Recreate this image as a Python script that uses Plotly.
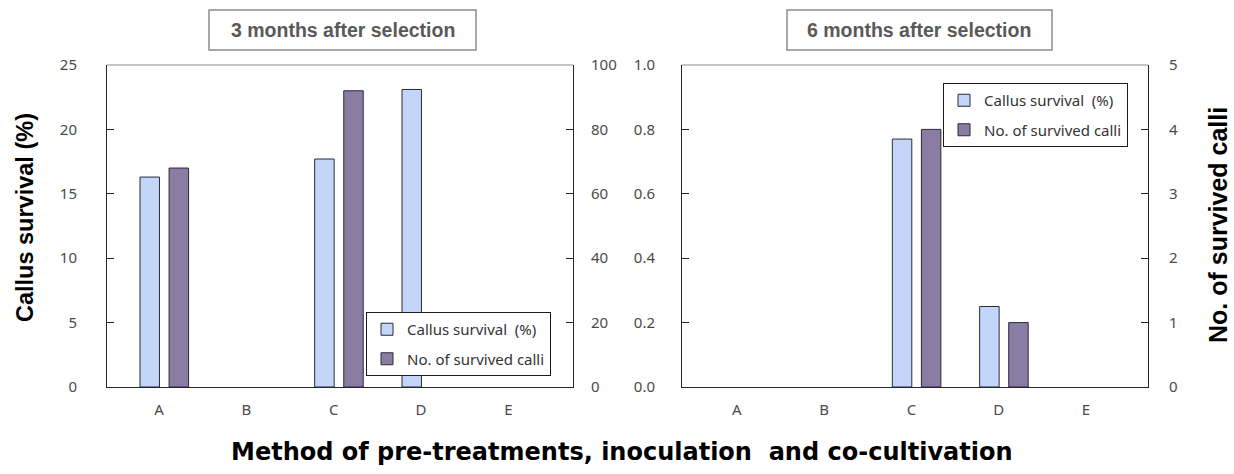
import plotly.graph_objects as go

# ---------------- data ----------------
categories = ["A", "B", "C", "D", "E"]
survival_3m = [16.3, None, 17.7, 23.1, None]      # Callus survival (%), 3 months
calli_3m = [68, None, 92, None, None]             # No. of survived calli, 3 months
survival_6m = [None, None, 0.77, 0.25, None]      # Callus survival (%), 6 months
calli_6m = [None, None, 4, 1, None]               # No. of survived calli, 6 months

left_ticks = [0, 5, 10, 15, 20, 25]
left2_ticks = [0, 20, 40, 60, 80, 100]
right_ticks = [0.0, 0.2, 0.4, 0.6, 0.8, 1.0]
right2_ticks = [0, 1, 2, 3, 4, 5]

W, H = 1234, 474


def px_x(p):
    return p / W


def px_y(p):
    return 1 - p / H


CALLUS_FILL = "#c3d6f9"
CALLI_FILL = "#8b7ca3"
BAR_LINE = "#2a2a3a"
TICK_COLOR = "#4a4a4a"
TICK_FONT = dict(family="Noto Sans", size=15, color=TICK_COLOR)

fig = go.Figure()

bar_w = 0.223
off_callus = -0.218
off_calli = 0.115

fig.add_trace(go.Bar(x=categories, y=survival_3m, name="Callus survival  (%)",
                     xaxis="x", yaxis="y", width=bar_w, offset=off_callus,
                     marker=dict(color=CALLUS_FILL, line=dict(color=BAR_LINE, width=1)),
                     legend="legend", legendgroup="a"))
fig.add_trace(go.Bar(x=categories, y=calli_3m, name="No. of survived calli",
                     xaxis="x", yaxis="y2", width=bar_w, offset=off_calli,
                     marker=dict(color=CALLI_FILL, line=dict(color=BAR_LINE, width=1)),
                     legend="legend", legendgroup="b"))
fig.add_trace(go.Bar(x=categories, y=survival_6m, name="Callus survival  (%)",
                     xaxis="x2", yaxis="y3", width=bar_w, offset=off_callus,
                     marker=dict(color=CALLUS_FILL, line=dict(color=BAR_LINE, width=1)),
                     legend="legend2", legendgroup="c"))
fig.add_trace(go.Bar(x=categories, y=calli_6m, name="No. of survived calli",
                     xaxis="x2", yaxis="y4", width=bar_w, offset=off_calli,
                     marker=dict(color=CALLI_FILL, line=dict(color=BAR_LINE, width=1)),
                     legend="legend2", legendgroup="d"))

ydom = [px_y(387), px_y(65)]
AXLINE = dict(showline=True, linecolor="#262626", linewidth=1, showgrid=False,
              zeroline=False)

xcommon = dict(type="category", showticklabels=True, ticks="",
               tickfont=TICK_FONT, ticklabelstandoff=9, **AXLINE)
ycommon = dict(ticks="inside", ticklen=7, tickcolor="#262626", tickfont=TICK_FONT,
               automargin=False, **AXLINE)

LEG_FONT = dict(family="Noto Sans", size=15, color="#333333")

fig.update_layout(
    width=W, height=H,
    margin=dict(l=0, r=0, t=0, b=0),
    paper_bgcolor="white", plot_bgcolor="white",
    barmode="overlay",
    showlegend=True,
    xaxis=dict(domain=[px_x(107), px_x(573)], anchor="y", range=[-0.596, 4.74], **xcommon),
    yaxis=dict(domain=ydom, anchor="x", range=[0, 25], tickvals=left_ticks,
               side="left", ticklabelstandoff=26, **ycommon),
    yaxis2=dict(domain=ydom, anchor="x", overlaying="y", side="right", range=[0, 100],
                tickvals=left2_ticks, ticklabelstandoff=14, **ycommon),
    xaxis2=dict(domain=[px_x(682), px_x(1148)], anchor="y3", range=[-0.627, 4.71], **xcommon),
    yaxis3=dict(domain=ydom, anchor="x2", range=[0, 1], tickvals=right_ticks,
                tickformat=".1f", side="left", ticklabelstandoff=23, **ycommon),
    yaxis4=dict(domain=ydom, anchor="x2", overlaying="y3", side="right", range=[0, 5],
                tickvals=right2_ticks, ticklabelstandoff=17, **ycommon),
    legend=dict(x=px_x(366), y=px_y(312), xanchor="left", yanchor="top",
                bgcolor="white", bordercolor="#1a1a1a", borderwidth=1,
                font=LEG_FONT, traceorder="grouped", tracegroupgap=7),
    legend2=dict(x=px_x(943), y=px_y(83), xanchor="left", yanchor="top",
                 bgcolor="white", bordercolor="#1a1a1a", borderwidth=1,
                 font=LEG_FONT, traceorder="grouped", tracegroupgap=7),
)

# top borders of the plot areas (gray)
for x0, x1 in [(107, 573), (682, 1148)]:
    fig.add_shape(type="line", xref="paper", yref="paper",
                  x0=px_x(x0), x1=px_x(x1), y0=px_y(65), y1=px_y(65),
                  line=dict(color="#8c8c8c", width=1))

# boxed panel titles
for (x0, x1), txt in [((209, 476), "3 months after selection"),
                      ((787, 1052), "6 months after selection")]:
    fig.add_shape(type="rect", xref="paper", yref="paper",
                  x0=px_x(x0), x1=px_x(x1), y0=px_y(50), y1=px_y(10),
                  line=dict(color="#8c8c8c", width=1.5), fillcolor="white")
    fig.add_annotation(xref="paper", yref="paper", x=px_x((x0 + x1) / 2), y=px_y(30),
                       text="<b>" + txt + "</b>", showarrow=False,
                       font=dict(family="Liberation Sans", size=19.5, color="#595959"),
                       xanchor="center", yanchor="middle")

fig.add_annotation(xref="paper", yref="paper", x=px_x(25), y=px_y(218),
                   text="<b>Callus survival (%)</b>", textangle=-90, showarrow=False,
                   font=dict(family="Liberation Sans", size=23.5, color="black"),
                   xanchor="center", yanchor="middle")
fig.add_annotation(xref="paper", yref="paper", x=px_x(1218), y=px_y(225),
                   text="<b>No. of survived calli</b>", textangle=-90, showarrow=False,
                   font=dict(family="Liberation Sans", size=25, color="black"),
                   xanchor="center", yanchor="middle")
fig.add_annotation(xref="paper", yref="paper", x=px_x(622), y=px_y(452),
                   text="<b>Method of pre-treatments, inoculation  and co-cultivation</b>",
                   showarrow=False,
                   font=dict(family="DejaVu Sans", size=24, color="black"),
                   xanchor="center", yanchor="middle")

fig.write_html("out.html")
